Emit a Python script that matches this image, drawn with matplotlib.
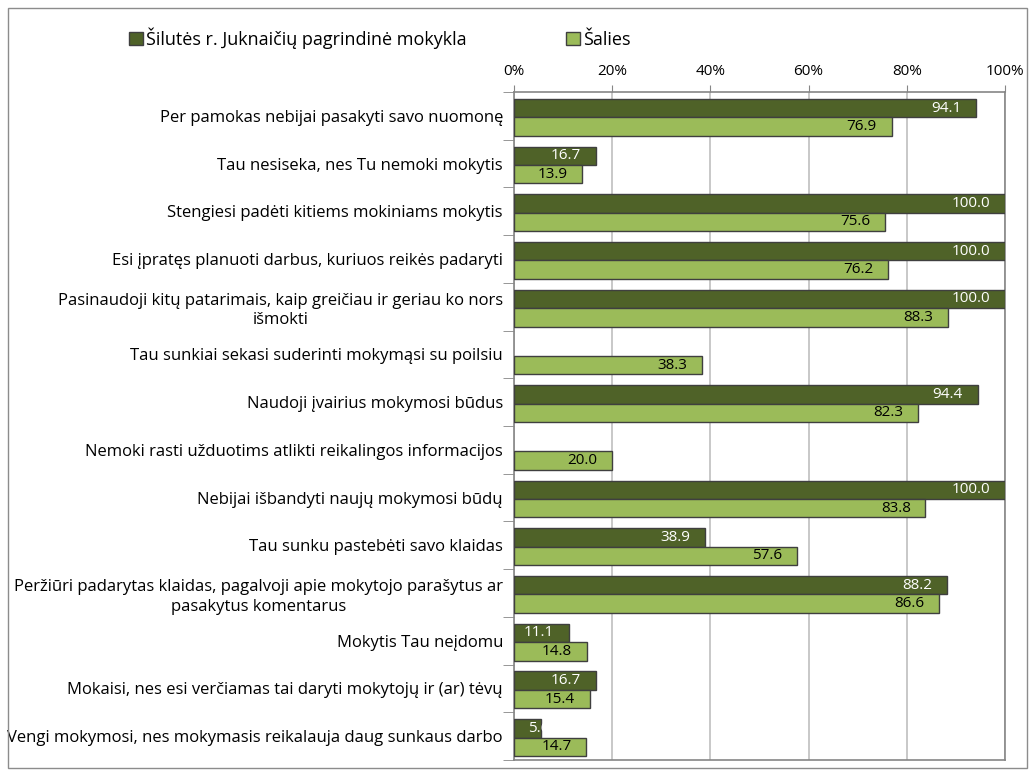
import matplotlib.pyplot as plt
import numpy as np
from matplotlib.patches import Rectangle, Patch

categories = [
    "Per pamokas nebijai pasakyti savo nuomonę",
    "Tau nesiseka, nes Tu nemoki mokytis",
    "Stengiesi padėti kitiems mokiniams mokytis",
    "Esi įpratęs planuoti darbus, kuriuos reikės padaryti",
    "Pasinaudoji kitų patarimais, kaip greičiau ir geriau ko nors\nišmokti",
    "Tau sunkiai sekasi suderinti mokymąsi su poilsiu",
    "Naudoji įvairius mokymosi būdus",
    "Nemoki rasti užduotims atlikti reikalingos informacijos",
    "Nebijai išbandyti naujų mokymosi būdų",
    "Tau sunku pastebėti savo klaidas",
    "Peržiūri padarytas klaidas, pagalvoji apie mokytojo parašytus ar\npasakytus komentarus",
    "Mokytis Tau neįdomu",
    "Mokaisi, nes esi verčiamas tai daryti mokytojų ir (ar) tėvų",
    "Vengi mokymosi, nes mokymasis reikalauja daug sunkaus darbo",
]
school = [94.1, 16.7, 100.0, 100.0, 100.0, 0.0, 94.4, 0.0, 100.0, 38.9, 88.2, 11.1, 16.7, 5.6]
country = [76.9, 13.9, 75.6, 76.2, 88.3, 38.3, 82.3, 20.0, 83.8, 57.6, 86.6, 14.8, 15.4, 14.7]
series_names = ["Šilutės r. Juknaičių pagrindinė mokykla", "Šalies"]

DARK = "#4F6228"
LIGHT = "#9BBB59"
EDGE = "#3F3F3F"
AXIS = "#868686"

plt.rcParams['font.family'] = ['Open Sans', 'DejaVu Sans']

fig = plt.figure(figsize=(10.35, 7.76), dpi=100)
fig.patches.append(Rectangle((8 / 1035, 8 / 776), 1019 / 1035, 760 / 776,
                             transform=fig.transFigure, fill=False,
                             edgecolor="#8C8C8C", linewidth=1.0))

ax = fig.add_axes([514 / 1035, 16 / 776, 491 / 1035, 668 / 776])

n = len(categories)
y = np.arange(n)
h = 0.385
b1 = ax.barh(y - h / 2 + 0.03, school, height=h, color=DARK, edgecolor=EDGE, linewidth=1.0, zorder=3)
b2 = ax.barh(y + h / 2 + 0.03, country, height=h, color=LIGHT, edgecolor=EDGE, linewidth=1.0, zorder=3)

# data labels at the inside end of each bar
for bar, v in zip(b1, school):
    if v <= 0:
        bar.set_visible(False)
        continue
    cy = bar.get_y() + bar.get_height() / 2
    if v < 8:
        t = ax.text(2.8, cy, f"{v:.1f}", ha="left", va="center", color="white", fontsize=11, zorder=4)
        t.set_clip_path(bar)
    else:
        ax.text(v - 3.0, cy, f"{v:.1f}", ha="right", va="center", color="white", fontsize=11, zorder=4)
for bar, v in zip(b2, country):
    ax.text(v - 3.0, bar.get_y() + bar.get_height() / 2, f"{v:.1f}",
            ha="right", va="center", color="black", fontsize=11, zorder=4)

ax.set_xlim(0, 100)
ax.set_ylim(n - 0.5, -0.5)
ax.xaxis.tick_top()
ax.set_xticks([0, 20, 40, 60, 80, 100])
ax.set_xticklabels(["0%", "20%", "40%", "60%", "80%", "100%"], fontsize=11)
ax.tick_params(axis="x", direction="out", length=5, color=AXIS, pad=4)
ax.grid(axis="x", color="#BFBFBF", linewidth=1.2, zorder=0)

ax.set_yticks(y)
ax.set_yticklabels(categories, fontsize=12, multialignment="center", linespacing=1.3)
ax.tick_params(axis="y", length=0, pad=8)
ax.set_yticks(np.arange(n + 1) - 0.5, minor=True)
ax.tick_params(axis="y", which="minor", length=8, color=AXIS, direction="out")

for side in ["top", "left", "bottom", "right"]:
    ax.spines[side].set_color(AXIS)
    ax.spines[side].set_linewidth(1.2)

handles = [Patch(facecolor=DARK, edgecolor=EDGE), Patch(facecolor=LIGHT, edgecolor=EDGE)]
fig.legend(handles, series_names, loc="center left", bbox_to_anchor=(122 / 1035, 1 - 38 / 776),
           ncol=2, frameon=False, fontsize=13, handlelength=0.75, handleheight=0.75,
           handletextpad=0.2, columnspacing=5.5, borderaxespad=0)

fig.savefig("out.png", dpi=100)
